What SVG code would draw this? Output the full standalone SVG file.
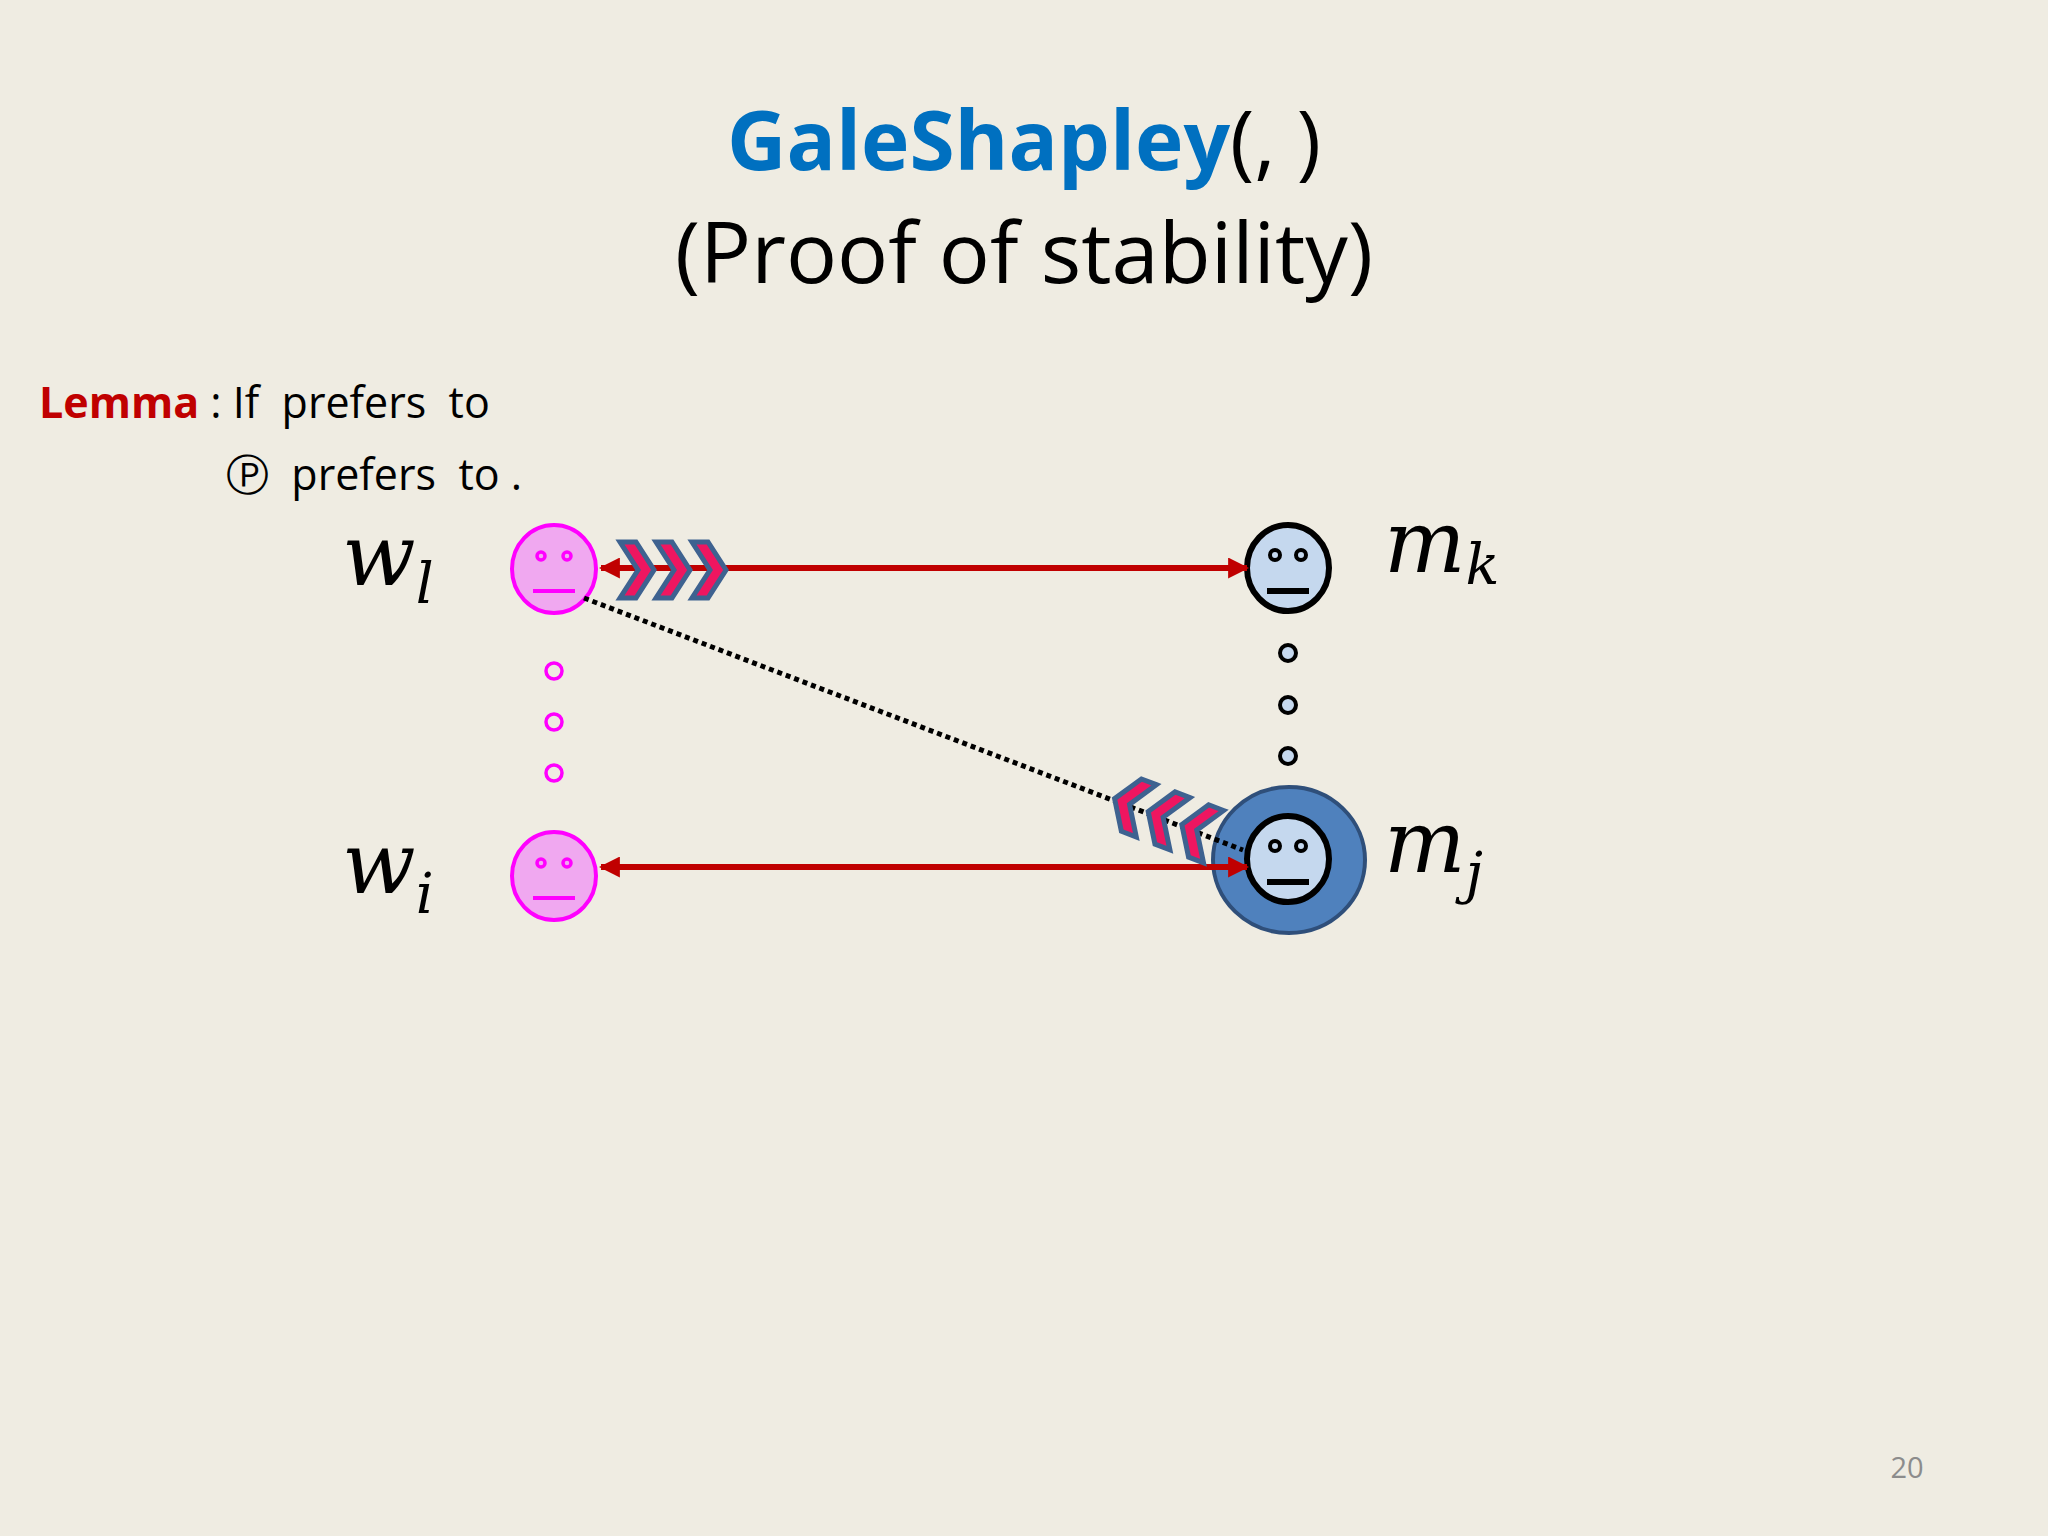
<svg xmlns="http://www.w3.org/2000/svg" width="2048" height="1536" viewBox="0 0 2048 1536">
<style>
.sans{font-family:"Open Sans","Noto Sans","Liberation Sans",sans-serif;white-space:pre}
.math{font-family:"DejaVu Serif","Liberation Serif",serif;font-style:italic}
.pf{fill:#F0A8F0;stroke:#FF00FF;stroke-width:4}
.pe{fill:none;stroke:#FF00FF;stroke-width:3.5}
.bf{fill:#C5D8EE;stroke:#000;stroke-width:6}
.conn{stroke:#C00000;stroke-width:6;fill:none}
.chev{fill:#EE1660;stroke:#3E6290;stroke-width:5;stroke-linejoin:miter}
</style>
<defs>
<marker id="ah" viewBox="0 0 10 10" refX="9" refY="5" markerWidth="3.5" markerHeight="3.5" orient="auto-start-reverse">
<path d="M0,0 L10,5 L0,10 z" fill="#C00000"/>
</marker>
<path id="chev" class="chev" d="M0,0 L16,0 L34,28 L16,56 L0,56 L18,28 z"/>
<g id="pface"><ellipse class="pf" cx="0" cy="0" rx="42" ry="44"/><circle class="pe" cx="-13" cy="-13" r="4"/><circle class="pe" cx="13" cy="-13" r="4"/><line x1="-21" y1="22" x2="21" y2="22" stroke="#FF00FF" stroke-width="4"/></g>
<g id="bface"><ellipse class="bf" cx="0" cy="0" rx="41" ry="43"/><circle cx="-13" cy="-13" r="5" fill="#C5D8EE" stroke="#000" stroke-width="4"/><circle cx="13" cy="-13" r="5" fill="#C5D8EE" stroke="#000" stroke-width="4"/><line x1="-21" y1="23" x2="21" y2="23" stroke="#000" stroke-width="6"/></g>
</defs>
<rect width="2048" height="1536" fill="#EFECE2"/>
<text class="sans" x="1024" y="170" text-anchor="middle" font-size="82" font-weight="bold" fill="#0070C0">GaleShapley<tspan font-weight="normal" fill="#000">(, )</tspan></text>
<text class="sans" x="1024" y="283" text-anchor="middle" font-size="85" fill="#000">(Proof of stability)</text>
<text class="sans" x="39" y="418" font-size="43" fill="#000"><tspan fill="#C00000" font-weight="bold">Lemma</tspan> : If  prefers  to </text>
<text class="sans" x="226" y="490" font-size="43" fill="#000">Ⓟ  prefers  to .</text>
<g id="wl"><use href="#pface" x="554" y="569"/><text class="math" x="342" y="585" font-size="86">w<tspan font-size="56" dy="18">l</tspan></text></g>
<g id="wi"><use href="#pface" x="554" y="876"/><text class="math" x="342" y="893" font-size="86">w<tspan font-size="56" dy="20">i</tspan></text></g>
<g id="mk"><use href="#bface" x="1288" y="568"/><text class="math" x="1384" y="572" font-size="86">m<tspan font-size="56" dy="12">k</tspan></text></g>
<g id="mj"><ellipse cx="1289" cy="860" rx="76" ry="73" fill="#4F81BD" stroke="#2F4F7A" stroke-width="4"/><use href="#bface" x="1288" y="859"/><text class="math" x="1384" y="872" font-size="86">m<tspan font-size="56" dy="20">j</tspan></text></g>
<g id="wdots" fill="none" stroke="#FF00FF" stroke-width="3.5"><circle cx="554" cy="671" r="8"/><circle cx="554" cy="722" r="8"/><circle cx="554" cy="773" r="8"/></g>
<g id="mdots" fill="#C5D8EE" stroke="#000" stroke-width="4"><circle cx="1288" cy="653" r="8"/><circle cx="1288" cy="705" r="8"/><circle cx="1288" cy="756" r="8"/></g>
<g id="connectors">
<line class="conn" x1="601" y1="568" x2="1247" y2="568" marker-start="url(#ah)" marker-end="url(#ah)"/>
<line class="conn" x1="601" y1="867" x2="1247" y2="867" marker-start="url(#ah)" marker-end="url(#ah)"/>
<line x1="584" y1="598" x2="1243" y2="850" stroke="#000" stroke-width="5" stroke-dasharray="5,4"/>
</g>
<g id="chevrons-top">
<use href="#chev" x="620" y="542"/><use href="#chev" x="656" y="542"/><use href="#chev" x="692" y="542"/>
</g>
<g id="chevrons-bottom" transform="translate(1165,818) rotate(21)">
<use href="#chev" transform="translate(-54,-28) scale(-1,1) translate(-34,0)"/>
<use href="#chev" transform="translate(-18,-28) scale(-1,1) translate(-34,0)"/>
<use href="#chev" transform="translate(18,-28) scale(-1,1) translate(-34,0)"/>
</g>
<text class="sans" x="1907" y="1478" text-anchor="middle" font-size="29" fill="#8C8C8C">20</text>
</svg>
